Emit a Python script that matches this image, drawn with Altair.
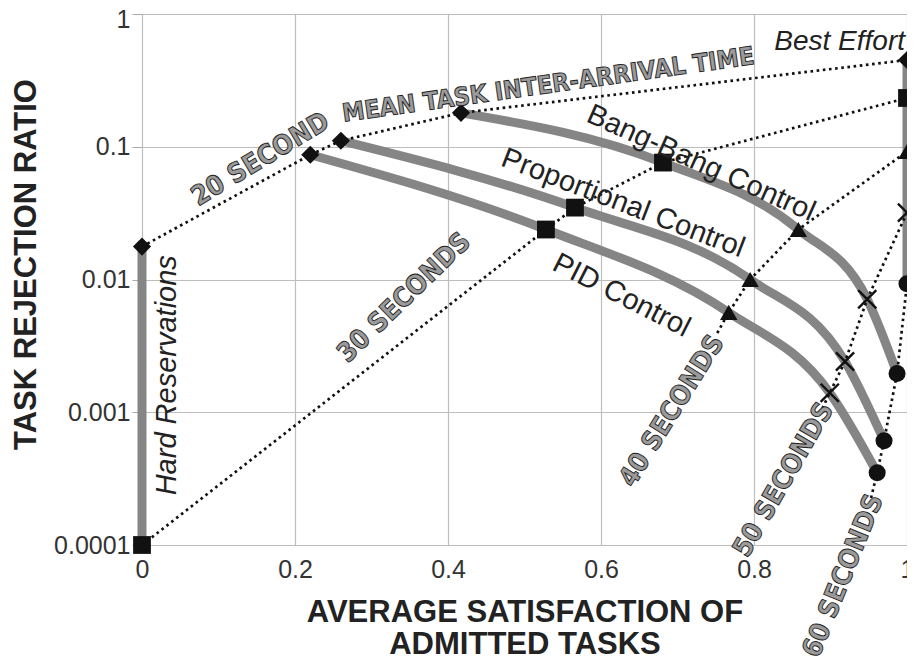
import altair as alt
import pandas as pd

# ---------------- data ----------------
intervals = ["20 s", "30 s", "40 s", "50 s", "60 s"]

pid_x = [0.22, 0.528, 0.767, 0.899, 0.961]
pid_y = [0.087, 0.0238, 0.00565, 0.0014, 0.00035]
prop_x = [0.26, 0.566, 0.795, 0.919, 0.970]
prop_y = [0.111, 0.0348, 0.0100, 0.00241, 0.00061]
bang_x = [0.417, 0.681, 0.858, 0.948, 0.987]
bang_y = [0.180, 0.076, 0.0238, 0.0071, 0.00196]
best_x = [1.0, 1.0, 1.0, 1.0, 1.0]
best_y = [0.45, 0.233, 0.092, 0.0319, 0.0093]
hard_x = [0.0, 0.0]            # only 20 s and 30 s are > 0
hard_y = [0.0177, 0.0001]

# connector ends that lead to the 40/50/60 s labels
tail_x = [0.752, 0.886, 0.953]
tail_y = [0.00395, 0.00097, 0.000226]

curve_labels = ["Bang-Bang Control", "Proportional Control", "PID Control"]
curve_lab_x = [0.731, 0.629, 0.627]
curve_lab_y = [0.0755, 0.0377, 0.0076]
curve_lab_angle = [24, 21, 27]

italic_labels = ["Best Effort", "Hard Reservations"]
italic_lab_x = [1.0, 0.033]
italic_lab_y = [0.62, 0.0019]
italic_lab_align = ["right", "center"]

time_labels = ["20 SECOND", "MEAN TASK INTER-ARRIVAL TIME", "30 SECONDS",
               "40 SECONDS", "50 SECONDS", "60 SECONDS"]
time_lab_x = [0.155, 0.531, 0.343, 0.693, 0.839, 0.917]
time_lab_y = [0.080, 0.292, 0.00726, 0.00102, 0.000309, 0.0000584]
time_lab_angle = [329, 352, 316, 302, 300, 292]

x_ticks = [0, 0.2, 0.4, 0.6, 0.8, 1]
y_ticks = [0.0001, 0.001, 0.01, 0.1, 1]

# ---------------- tables ----------------
thick_rows = []
for name, xs, ys in [("PID", pid_x, pid_y), ("Prop", prop_x, prop_y), ("Bang", bang_x, bang_y)]:
    for i, (a, b) in enumerate(zip(xs, ys)):
        thick_rows.append({"series": name, "kind": "curve", "o": i, "x": a, "y": b})
for i, (a, b) in enumerate(zip(hard_x, hard_y)):
    thick_rows.append({"series": "Hard", "kind": "vert", "o": i, "x": a, "y": b})
thick_rows.append({"series": "Best", "kind": "vert", "o": 0, "x": best_x[0], "y": best_y[0]})
thick_rows.append({"series": "Best", "kind": "vert", "o": 1, "x": best_x[-1], "y": best_y[-1]})
thick = pd.DataFrame(thick_rows)

dot_rows = []
marker_rows = []
for k, iv in enumerate(intervals):
    pts = []
    if k < 2:
        pts.append((hard_x[k], hard_y[k]))
    else:
        pts.append((tail_x[k - 2], tail_y[k - 2]))
    core = [(pid_x[k], pid_y[k]), (prop_x[k], prop_y[k]), (bang_x[k], bang_y[k]), (best_x[k], best_y[k])]
    pts.extend(core)
    for j, (a, b) in enumerate(pts):
        dot_rows.append({"interval": iv, "o": j, "x": a, "y": b})
    mk = ([(hard_x[k], hard_y[k])] if k < 2 else []) + core
    for a, b in mk:
        marker_rows.append({"interval": iv, "x": a, "y": b})
dots = pd.DataFrame(dot_rows)
markers = pd.DataFrame(marker_rows)

curve_lab = pd.DataFrame({"text": curve_labels, "x": curve_lab_x, "y": curve_lab_y, "angle": curve_lab_angle})
italic_lab = pd.DataFrame({"text": italic_labels, "x": italic_lab_x, "y": italic_lab_y,
                           "align": italic_lab_align})
time_lab = pd.DataFrame({"text": time_labels, "x": time_lab_x, "y": time_lab_y, "angle": time_lab_angle})

# ---------------- encodings ----------------
FONT = "Liberation Sans"
x_scale = alt.Scale(domain=[0, 1], nice=False, zero=False)
y_scale = alt.Scale(type="log", domain=[0.0001, 1], nice=False)

X = alt.X("x:Q", scale=x_scale,
          title=["AVERAGE SATISFACTION OF", "ADMITTED TASKS"],
          axis=alt.Axis(values=x_ticks, format="~g", labelFont=FONT, labelFontSize=25,
                        labelColor="#333", labelPadding=12, tickSize=0, domain=False,
                        gridColor="#bdbdbd", gridWidth=1.2, labelFlush=False,
                        titleFont=FONT, titleFontSize=31, titleFontWeight="bold",
                        titleColor="#222", titleY=76, titleBaseline="alphabetic",
                        titleLineHeight=32))
Y = alt.Y("y:Q", scale=y_scale, title="TASK REJECTION RATIO",
          axis=alt.Axis(values=y_ticks, format=".4~f", labelFont=FONT, labelFontSize=25,
                        labelColor="#333", labelPadding=2, tickSize=10, tickColor="#aaa",
                        labelOffset={"condition": {"test": "datum.value == 1", "value": 5}, "value": 0},
                        domain=False, gridColor="#bdbdbd", gridWidth=1.2, labelFlush=False,
                        titleFont=FONT, titleFontSize=31, titleFontWeight="bold",
                        titleColor="#222", titleAngle=270, titleX=-116, titleY=250,
                        titleAlign="center", titleBaseline="middle"))

curves = alt.Chart(thick).transform_filter("datum.kind == 'curve'").mark_line(
    color="#858585", strokeWidth=9, interpolate="monotone", strokeCap="butt"
).encode(x=X, y=Y, detail="series:N", order="o:Q")

verts = alt.Chart(thick).transform_filter("datum.kind == 'vert'").mark_line(
    color="#858585", strokeWidth=9, strokeCap="butt"
).encode(x=X, y=Y, detail="series:N", order="o:Q")

dotted = alt.Chart(dots).mark_line(
    color="#111", strokeWidth=2.7, strokeDash=[2.6, 3.6]
).encode(x=X, y=Y, detail="interval:N", order="o:Q")

filled = alt.Chart(markers).transform_filter("datum.interval != '50 s'").mark_point(
    filled=True, color="#111", opacity=1
).encode(
    x=X, y=Y,
    shape=alt.Shape("interval:N", legend=None,
                    scale=alt.Scale(domain=["20 s", "30 s", "40 s", "60 s"],
                                    range=["diamond", "square", "triangle-up", "circle"])),
    size=alt.Size("interval:N", legend=None,
                  scale=alt.Scale(domain=["20 s", "30 s", "40 s", "60 s"],
                                  range=[330, 290, 200, 320])),
)

crosses = alt.Chart(markers).transform_filter("datum.interval == '50 s'").mark_point(
    shape="M-1,-1L1,1M1,-1L-1,1", filled=False, stroke="#111", strokeWidth=2.4,
    size=330, opacity=1
).encode(x=X, y=Y)

t_curve = alt.Chart(curve_lab).mark_text(
    font=FONT, fontSize=29, color="#222", align="center", baseline="middle"
).encode(x=X, y=Y, text="text:N", angle=alt.Angle("angle:Q", scale=None))

t_best = alt.Chart(italic_lab).transform_filter("datum.align == 'right'").mark_text(
    font=FONT, fontSize=28, fontStyle="italic", color="#222", align="right",
    baseline="middle", dx=-2
).encode(x=X, y=Y, text="text:N")

t_hard = alt.Chart(italic_lab).transform_filter("datum.align == 'center'").mark_text(
    font=FONT, fontSize=29, fontStyle="italic", color="#222", align="center",
    baseline="middle", angle=270
).encode(x=X, y=Y, text="text:N")

outline = dict(font="DejaVu Sans Condensed", fontWeight="bold",
               fill="#9a9a9a", stroke="#1e1e1e", strokeWidth=0.9,
               align="center", baseline="middle")

t_time = alt.Chart(time_lab).transform_filter("indexof(datum.text, 'MEAN') < 0").mark_text(
    fontSize=27, **outline
).encode(x=X, y=Y, text="text:N", angle=alt.Angle("angle:Q", scale=None))

t_mean = alt.Chart(time_lab).transform_filter("indexof(datum.text, 'MEAN') >= 0").mark_text(
    fontSize=25, **outline
).encode(x=X, y=Y, text="text:N", angle=alt.Angle("angle:Q", scale=None))

chart = alt.layer(
    curves, verts, dotted, filled, crosses, t_curve, t_best, t_hard, t_time, t_mean
).properties(
    width=765, height=531,
    autosize=alt.AutoSizeParams(type="none"),
    padding={"left": 134, "top": 6, "right": 0, "bottom": 114},
).configure_view(
    stroke="#bdbdbd", strokeWidth=1.2
).configure(background="white")

chart.save("out.html", embed_options={"renderer": "svg", "actions": False})
